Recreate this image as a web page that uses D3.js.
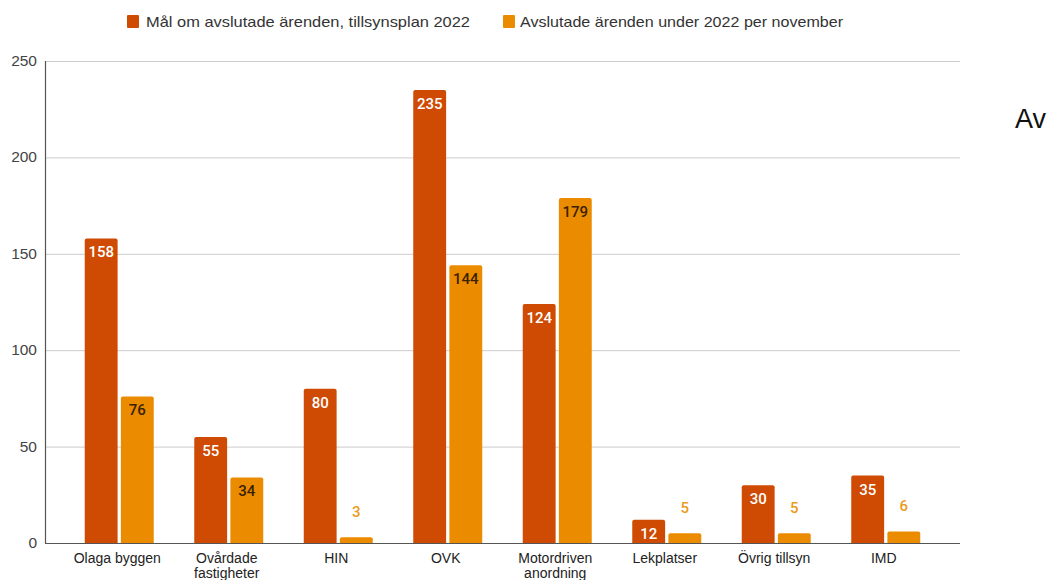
<!DOCTYPE html>
<html>
<head>
<meta charset="utf-8">
<script src="https://cdn.jsdelivr.net/npm/d3@7"></script>
<style>
  html, body { margin: 0; padding: 0; background: #fff; }
  svg { display: block; }
</style>
</head>
<body>
<svg id="chart" width="1048" height="580"></svg>
<script>
const categories = [
  ["Olaga byggen"],
  ["Ovårdade", "fastigheter"],
  ["HIN"],
  ["OVK"],
  ["Motordriven", "anordning"],
  ["Lekplatser"],
  ["Övrig tillsyn"],
  ["IMD"]
];
const seriesNames = ["Mål om avslutade ärenden, tillsynsplan 2022", "Avslutade ärenden under 2022 per november"];
const goalValues = [158, 55, 80, 235, 124, 12, 30, 35];
const doneValues = [76, 34, 3, 144, 179, 5, 5, 6];
const yTicks = [0, 50, 100, 150, 200, 250];

(function () {
const colors = ["#cf4a02", "#eb8c00"];
const insideText = ["#ffffff", "#3a2200"];
const outsideText = ["#cf4a02", "#eb9a1c"];

const svg = d3.select("#chart");
const pLeft = 45, pRight = 960, pTop = 61, pBottom = 543;

const catIdx = categories.map((c, i) => i);
const x0 = d3.scaleBand().domain(catIdx).range([pLeft, pRight]).paddingInner(0).paddingOuter(0.178);
const x1 = d3.scaleBand().domain([0, 1]).range([-34.5, 34.5]).paddingInner(0.09);
const y = d3.scaleLinear().domain([0, 250]).range([pBottom, pTop]);

// gridlines
svg.append("g")
  .selectAll("line").data(yTicks.filter(t => t > 0)).join("line")
  .attr("x1", pLeft).attr("x2", pRight)
  .attr("y1", d => y(d) + 0.5).attr("y2", d => y(d) + 0.5)
  .attr("stroke", "#cccccc").attr("stroke-width", 1);

// y tick labels
svg.append("g")
  .selectAll("text").data(yTicks).join("text")
  .attr("x", 37).attr("y", d => y(d) + 5)
  .attr("text-anchor", "end")
  .attr("font-family", "Liberation Sans, Arial, sans-serif")
  .attr("font-size", 15.5).attr("fill", "#444")
  .text(d => d);

const rows = catIdx.map(i => [goalValues[i], doneValues[i]]);

const groups = svg.append("g").selectAll("g").data(rows).join("g")
  .attr("transform", (d, i) => `translate(${x0(i) + x0.bandwidth() / 2},0)`);

groups.selectAll("path").data(d => d.map((v, s) => ({ v, s }))).join("path")
  .attr("fill", d => colors[d.s])
  .attr("d", d => {
    const x = x1(d.s), w = x1.bandwidth(), yt = y(d.v), yb = y(0), r = 2;
    return `M${x},${yb}V${yt + r}Q${x},${yt} ${x + r},${yt}H${x + w - r}Q${x + w},${yt} ${x + w},${yt + r}V${yb}Z`;
  });

groups.selectAll("text").data(d => d.map((v, s) => ({ v, s }))).join("text")
  .attr("x", d => x1(d.s) + x1.bandwidth() / 2)
  .attr("y", d => {
    const h = y(0) - y(d.v);
    return h >= 20 ? y(d.v) + 19 : y(d.v) - 20;
  })
  .attr("text-anchor", "middle")
  .attr("font-family", "Roboto, sans-serif")
  .attr("font-size", 15)
  .attr("font-weight", 500)
  .attr("fill", d => (y(0) - y(d.v) >= 20) ? insideText[d.s] : outsideText[d.s])
  .text(d => d.v);

// axis lines
svg.append("line").attr("x1", pLeft + 0.5).attr("x2", pLeft + 0.5).attr("y1", pTop).attr("y2", pBottom)
  .attr("stroke", "#555").attr("stroke-width", 1.2);
svg.append("line").attr("x1", pLeft).attr("x2", pRight).attr("y1", pBottom + 0.5).attr("y2", pBottom + 0.5)
  .attr("stroke", "#555").attr("stroke-width", 1.2);

// category labels
const catLabels = svg.append("g").selectAll("text").data(categories).join("text")
  .attr("x", (d, i) => x0(i) + x0.bandwidth() / 2 - 2)
  .attr("y", 563)
  .attr("text-anchor", "middle")
  .attr("font-family", "Liberation Sans, Arial, sans-serif")
  .attr("font-size", 14).attr("fill", "#222");
catLabels.selectAll("tspan").data(d => d).join("tspan")
  .attr("x", function() { return d3.select(this.parentNode).attr("x"); })
  .attr("dy", (d, i) => i === 0 ? 0 : 14.5)
  .text(d => d);

// legend
const legendPos = [{ sx: 127, tx: 146, w: 324 }, { sx: 503, tx: 520, w: 323 }];
const legend = svg.append("g").selectAll("g").data(seriesNames).join("g");
legend.append("rect")
  .attr("x", (d, i) => legendPos[i].sx).attr("y", 15)
  .attr("width", 12).attr("height", 13).attr("rx", 1)
  .attr("fill", (d, i) => colors[i]);
legend.append("text")
  .attr("x", (d, i) => legendPos[i].tx).attr("y", 27)
  .attr("font-family", "Liberation Sans, Arial, sans-serif")
  .attr("font-size", 15).attr("fill", "#333")
  .attr("textLength", (d, i) => legendPos[i].w)
  .attr("lengthAdjust", "spacingAndGlyphs")
  .text(d => d);

// cut-off title on the right (only "Av" is visible in the frame)
svg.append("text")
  .attr("x", 1015).attr("y", 128)
  .attr("font-family", "Liberation Sans, Arial, sans-serif")
  .attr("font-size", 27).attr("fill", "#111")
  .text("Av");
})();
</script>
</body>
</html>
